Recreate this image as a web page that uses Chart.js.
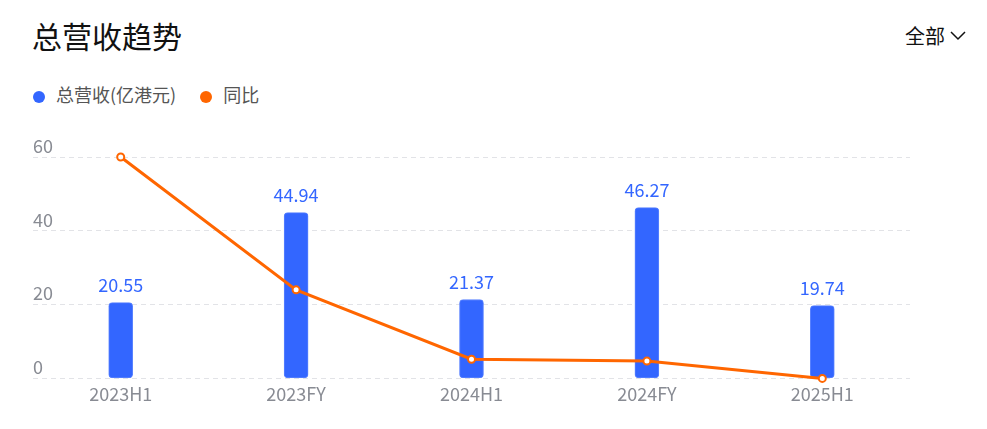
<!DOCTYPE html>
<html>
  <head>
    <meta charset="utf-8" />
    <title>总营收趋势</title>
    <script src="https://cdn.jsdelivr.net/npm/chart.js"></script>
    <style>
      html, body { margin: 0; padding: 0; background: #fff; }
      body { width: 987px; height: 429px; position: relative; overflow: hidden;
             font-family: "Noto Sans CJK SC", "Noto Sans", sans-serif; }
      #title { position: absolute; left: 32px; top: 14px; font-size: 30px; color: #111; line-height: 42px; }
      #filter { position: absolute; left: 905px; top: 22px; font-size: 20px; color: #111; line-height: 28px; }
      #filter svg { position: absolute; left: 45px; top: 8px; }
      #legend { position: absolute; left: 33px; top: 82px; font-size: 18px; color: #555; line-height: 24px; }
      #legend span.item { display: inline-block; margin-right: 24px; }
      #legend i { display: inline-block; width: 12px; height: 12px; border-radius: 50%;
                  margin-right: 11px; vertical-align: -1px; }
      #wrap { position: absolute; left: 0; top: 0; width: 987px; height: 429px; }
    </style>
  </head>
  <body>
    <div id="title">总营收趋势</div>
    <div id="filter">全部<svg width="16" height="12"><polyline points="1,2 8,9 15,2" fill="none" stroke="#111" stroke-width="1.5"/></svg></div>
    <div id="legend"></div>
    <div id="wrap"><canvas id="revChart"></canvas></div>

    <script type="text/javascript">
      var periods = ['2023H1', '2023FY', '2024H1', '2024FY', '2025H1']
      var revenue = [20.55, 44.94, 21.37, 46.27, 19.74]
      var yoy = [60.0, 24.0, 5.2, 4.7, 0.0]
      var yTicks = [0, 20, 40, 60]

      var seriesNames = ['总营收(亿港元)', '同比']
      var seriesColors = ['#3366ff', '#ff6600']

      // html legend
      var legend = document.getElementById('legend')
      for (var i = 0; i < seriesNames.length; i++) {
        var item = document.createElement('span')
        item.className = 'item'
        item.innerHTML = '<i style="background:' + seriesColors[i] + '"></i>' + seriesNames[i]
        legend.appendChild(item)
      }

      var barLabels = {
        id: 'barLabels',
        afterDatasetsDraw: function(chart) {
          var ctx = chart.ctx
          var meta = chart.getDatasetMeta(0)
          ctx.save()
          ctx.font = '18px "Noto Sans CJK SC", sans-serif'
          ctx.fillStyle = seriesColors[0]
          ctx.textAlign = 'center'
          ctx.textBaseline = 'alphabetic'
          meta.data.forEach(function(bar, i) {
            ctx.fillText(revenue[i].toFixed(2), bar.x, bar.y - 11)
          })
          ctx.restore()
        }
      }

      var tickFont = { family: '"Noto Sans CJK SC", sans-serif', size: 18 }

      var ctx = document.getElementById('revChart').getContext('2d')
      new Chart(ctx, {
        data: {
          labels: periods,
          datasets: [{
            type: 'bar',
            label: seriesNames[0],
            data: revenue,
            backgroundColor: seriesColors[0],
            borderColor: '#5a83ff',
            borderWidth: 1,
            borderRadius: 4,
            borderSkipped: false,
            barThickness: 24,
            order: 2,
            yAxisID: 'y',
          }, {
            type: 'line',
            label: seriesNames[1],
            data: yoy,
            borderColor: seriesColors[1],
            borderWidth: 3,
            tension: 0,
            pointRadius: 3.5,
            pointBorderWidth: 2,
            pointBackgroundColor: '#fff',
            pointBorderColor: seriesColors[1],
            clip: false,
            order: 1,
            yAxisID: 'y1',
          }]
        },
        options: {
          responsive: true,
          maintainAspectRatio: false,
          animation: false,
          layout: { padding: { left: 33, right: 77, top: 157, bottom: 19 } },
          plugins: {
            legend: { display: false },
            tooltip: { enabled: false },
          },
          scales: {
            x: {
              offset: true,
              grid: { display: false, drawTicks: false },
              border: { display: false },
              ticks: { color: '#888b93', font: tickFont, padding: 5 },
            },
            y: {
              min: 0,
              max: 60,
              afterBuildTicks: function(axis) {
                axis.ticks = yTicks.map(function(v) { return { value: v } })
              },
              grid: { color: '#e2e3e7', lineWidth: 1, drawTicks: false },
              border: { display: false, dash: [5, 4] },
              ticks: { color: '#888b93', font: tickFont, mirror: true, padding: 0, labelOffset: -11 },
            },
            y1: {
              display: false,
              min: 0,
              max: 60,
            }
          }
        },
        plugins: [barLabels]
      })
    </script>
  </body>
</html>
